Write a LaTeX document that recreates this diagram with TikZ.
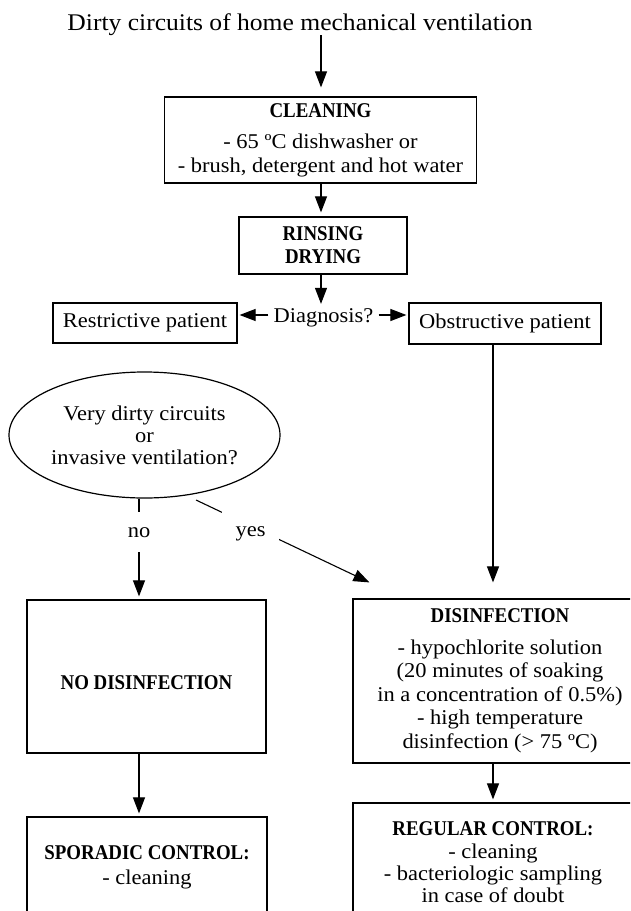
\documentclass[tikz,border=0pt]{standalone}
\usepackage{fontspec}
\setmainfont{Liberation Serif}[FakeStretch=1.07]
\newfontfamily\bfam{Liberation Serif}[FakeStretch=0.9]
\usetikzlibrary{arrows.meta,shapes.geometric,calc}
\newcommand{\hd}[1]{{\bfam\bfseries #1}}
\begin{document}
\begin{tikzpicture}[x=1pt,y=-1pt,
  every node/.style={font=\fontsize{21}{23.5}\selectfont},
  box/.style={draw, line width=1.2pt, rectangle, inner sep=0pt, align=center},
  txt/.style={inner sep=0pt, align=center},
  conn/.style={line width=1.1pt},
  arr/.style={conn, -{Triangle[length=16pt,width=12pt]}},
  lbl/.style={fill=white, inner sep=0pt, text depth=0pt}
]
\useasboundingbox (0,0) rectangle (630,911);
\fill[white] (0,0) rectangle (630,911);
\clip (0,0) rectangle (630,911);

\coordinate (cL) at (139,0);
\coordinate (cR) at (493,0);
\coordinate (cC) at (321,0);

\node[txt, anchor=base, font=\fontsize{23.9}{27}\selectfont] (title) at (300,30) {Dirty circuits of home mechanical ventilation};
\node[box, minimum width=312pt, minimum height=86pt] (clean) at (320.5,140) {\hd{CLEANING}\\[8pt]- 65 ºC dishwasher or\\- brush, detergent and hot water};
\node[box, minimum width=168pt, minimum height=57pt] (rinse) at (323,245.5) {\hd{RINSING}\\[-0.5pt]\hd{DRYING}};
\node[txt, inner xsep=5pt, inner ysep=0pt, text depth=0pt] (diag) at (323.5,316) {Diagnosis?};
\node[box, minimum width=184pt, minimum height=40pt] (rest) at (145,323) {Restrictive patient};
\node[box, minimum width=192pt, minimum height=41pt] (obs) at (505,323.5) {Obstructive patient};
\node[draw, ellipse, line width=1.2pt, minimum width=271pt, minimum height=126pt, inner sep=0pt, align=center, font=\fontsize{21}{22}\selectfont] (ell) at (144.5,435) {Very dirty circuits\\or\\invasive ventilation?};
\node[box, minimum width=239pt, minimum height=153pt, text height=26.2pt, text depth=0pt] (nodis) at (146.5,676.5) {\hd{NO DISINFECTION}};
\node[box, minimum width=294pt, minimum height=164pt] (disin) at (500,681) {\hd{DISINFECTION}\\[8pt]- hypochlorite solution\\(20 minutes of soaking\\in a concentration of 0.5\%)\\- high temperature\\disinfection (> 75 ºC)};
\node[box, minimum width=240pt, minimum height=100pt] (spor) at (147,867) {\hd{SPORADIC CONTROL:}\\[1.5pt]- cleaning};
\node[box, minimum width=280pt, minimum height=118pt, font=\fontsize{21}{22}\selectfont] (reg) at (493,862) {\hd{REGULAR CONTROL:}\\[1.5pt]- cleaning\\- bacteriologic sampling\\in case of doubt};

\draw[arr, shorten >=9pt] (cC |- title.south) -- (cC |- clean.north);
\draw[arr, shorten >=4pt] (cC |- clean.south) -- (cC |- rinse.north);
\draw[arr, shorten >=5pt] (cC |- rinse.south) -- (cC |- diag.north);
\draw[arr, shorten >=2pt] ([yshift=1pt]diag.west) -- ([yshift=1pt]diag.west -| rest.east);
\draw[arr, shorten >=2pt] ([yshift=1pt]diag.east) -- ([yshift=1pt]diag.east -| obs.west);
\draw[arr, shorten >=16pt] (cR |- obs.south) -- (cR |- disin.north);
\draw[arr, shorten >=3pt] (cL |- ell.south) -- node[lbl, minimum height=40pt, pos=0.333] (nolbl) {no} (cL |- nodis.north);
\draw[arr] ($(ell.center)+(51.5,65)$) -- node[lbl, minimum width=57pt, minimum height=30pt, text height=20.8pt, pos=0.315] (yeslbl) {yes} ($(disin.north west)+(17,-16)$);
\draw[arr, shorten >=3pt] (cL |- nodis.south) -- (cL |- spor.north);
\draw[arr, shorten >=3pt] (cR |- disin.south) -- (cR |- reg.north);
\end{tikzpicture}
\end{document}
